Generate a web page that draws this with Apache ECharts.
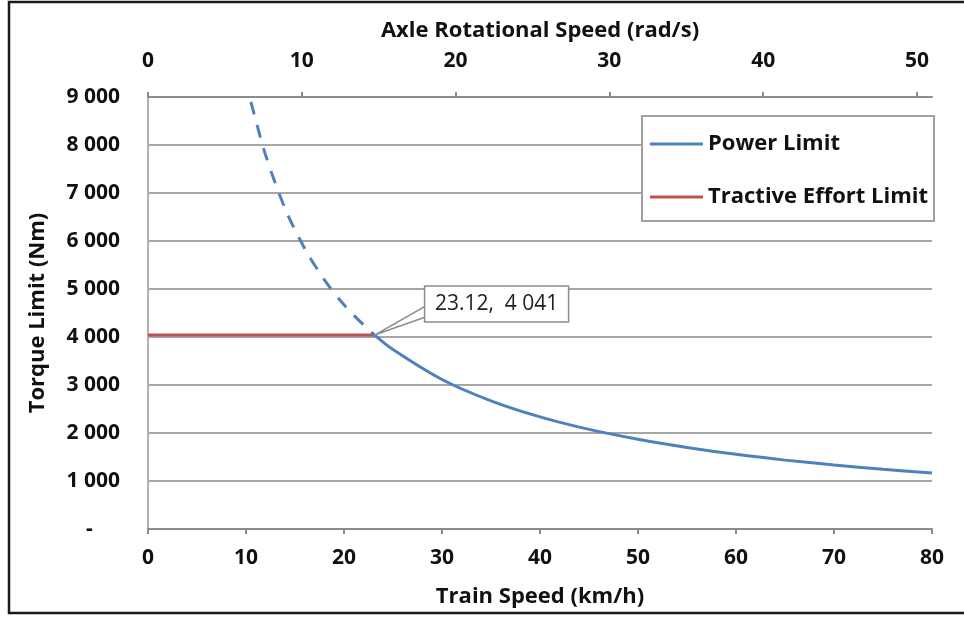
<!DOCTYPE html>
<html>
<head>
<meta charset="utf-8">
<script src="https://cdn.jsdelivr.net/npm/echarts@6/dist/echarts.min.js"></script>
<style>
  html, body { margin: 0; padding: 0; background: #fff; }
  #chart { width: 964px; height: 617px; }
</style>
</head>
<body>
<div id="chart"></div>
<script>
// Train speed (km/h) and torque (Nm) along the power-limited curve,
// dashed part below the crossover, solid part above it.
const powerSpeedDashed = [10.5, 12, 14, 16, 18, 20, 22, 23.12];
const powerTorqueDashed = [8900, 7790, 6670, 5840, 5190, 4670, 4250, 4041];
const powerSpeedSolid = [23.12, 25, 30, 35, 40, 45, 50, 55, 60, 65, 70, 75, 80];
const powerTorqueSolid = [4041, 3740, 3115, 2670, 2335, 2075, 1870, 1700, 1555, 1435, 1335, 1245, 1168];

// Tractive effort limit: constant torque up to the crossover speed
const tractiveSpeed = [0, 23.12];
const tractiveTorque = [4041, 4041];

// Crossover point
const crossSpeed = 23.12;
const crossTorque = 4041;

// Axis ranges
const trainSpeedMax = 80;       // km/h
const axleSpeedMax = 50.98;     // rad/s at 80 km/h
const torqueMax = 9000;

const FONT = 'Open Sans';
const BLUE = '#4F81BD';
const RED = '#C0504D';
const GRID_GRAY = '#A6A6A6';
const AXIS_GRAY = '#8C8C8C';

function thousands(v) {
  return String(Math.round(v)).replace(/\B(?=(\d{3})+(?!\d))/g, ' ');
}

function pairs(xs, ys) {
  return xs.map((x, i) => [x, ys[i]]);
}

const chart = echarts.init(document.getElementById('chart'), null, { renderer: 'canvas' });

const tickStyle = { fontFamily: FONT, fontWeight: 'bold', fontSize: 21, color: '#111' };
const titleStyle = { fontFamily: FONT, fontWeight: 'bold', fontSize: 22, color: '#111' };

const option = {
  backgroundColor: '#fff',
  animation: false,
  grid: { left: 148, right: 32, top: 97, bottom: 88, containLabel: false },
  xAxis: [
    {
      type: 'value', position: 'bottom', min: 0, max: trainSpeedMax, interval: 10,
      name: 'Train Speed (km/h)', nameLocation: 'middle', nameGap: 57,
      nameTextStyle: titleStyle,
      axisLine: { show: true, lineStyle: { color: AXIS_GRAY, width: 2 } },
      axisTick: { show: true, length: 5, lineStyle: { color: AXIS_GRAY, width: 2 } },
      axisLabel: Object.assign({ margin: 19 }, tickStyle),
      splitLine: { show: false }
    },
    {
      type: 'value', position: 'top', min: 0, max: axleSpeedMax, interval: 10,
      name: 'Axle Rotational Speed (rad/s)', nameLocation: 'middle', nameGap: 55,
      nameTextStyle: titleStyle,
      axisLine: { show: true, lineStyle: { color: AXIS_GRAY, width: 2 } },
      axisTick: { show: true, length: 5, lineStyle: { color: AXIS_GRAY, width: 2 } },
      axisLabel: Object.assign({ margin: 25, showMaxLabel: false }, tickStyle),
      splitLine: { show: false }
    }
  ],
  yAxis: {
    type: 'value', min: 0, max: torqueMax, interval: 1000,
    name: 'Torque Limit (Nm)', nameLocation: 'middle', nameGap: 99,
    nameTextStyle: titleStyle,
    axisLine: { show: true, lineStyle: { color: '#B0B0B0', width: 2 } },
    axisTick: { show: false },
    axisLabel: Object.assign({
      margin: 28,
      formatter: v => (v === 0 ? '-     ' : thousands(v))
    }, tickStyle),
    splitLine: { show: true, lineStyle: { color: GRID_GRAY, width: 2 } }
  },
  legend: {
    orient: 'vertical', left: 650, top: 133, padding: 0,
    icon: 'rect', itemWidth: 53, itemHeight: 3, itemGap: 31, itemStyle: { borderWidth: 0 },
    textStyle: Object.assign({ lineHeight: 22 }, titleStyle),
    data: [
      { name: 'Power Limit', itemStyle: { color: BLUE } },
      { name: 'Tractive Effort Limit', itemStyle: { color: RED } }
    ],
    z: 20
  },
  graphic: [
    // outer frame
    { type: 'rect', shape: { x: 9, y: 2, width: 980, height: 611 },
      style: { fill: null, stroke: '#1a1a1a', lineWidth: 2.5 }, z: 1 },
    // legend box
    { type: 'rect', shape: { x: 642, y: 116, width: 292, height: 105 },
      style: { fill: '#fff', stroke: '#A0A0A0', lineWidth: 2 }, z: 10 }
  ],
  series: [
    {
      name: 'Tractive Effort Limit', type: 'line', xAxisIndex: 0,
      data: pairs(tractiveSpeed, tractiveTorque),
      showSymbol: false, lineStyle: { color: RED, width: 3 }, itemStyle: { color: RED },
      z: 3
    },
    {
      name: 'Power Limit', type: 'line', xAxisIndex: 0, smooth: 0.3,
      data: pairs(powerSpeedDashed, powerTorqueDashed),
      showSymbol: false, lineStyle: { color: BLUE, width: 3, type: [13, 11] }, itemStyle: { color: BLUE },
      z: 3
    },
    {
      name: 'Power Limit', type: 'line', xAxisIndex: 0, smooth: 0.3,
      data: pairs(powerSpeedSolid, powerTorqueSolid),
      showSymbol: false, lineStyle: { color: BLUE, width: 3 }, itemStyle: { color: BLUE },
      z: 3
    },
    {
      // callout for the crossover point
      name: 'crossover', type: 'custom', xAxisIndex: 0,
      data: [[crossSpeed, crossTorque]],
      z: 5,
      renderItem: function (params, api) {
        const p = api.coord([api.value(0), api.value(1)]);
        const bx = p[0] + 50, by = p[1] - 49, bw = 144, bh = 36;
        const text = api.value(0).toFixed(2) + ',  ' + thousands(api.value(1));
        return {
          type: 'group',
          children: [
            { type: 'polygon',
              shape: { points: [[p[0], p[1]], [bx + 1, by + 20], [bx + 1, by + 31]] },
              style: { fill: '#fff', stroke: '#8C8C8C', lineWidth: 1.5 } },
            { type: 'rect', shape: { x: bx, y: by, width: bw, height: bh },
              style: { fill: '#fff', stroke: '#8C8C8C', lineWidth: 1.5 } },
            { type: 'text', x: bx + bw / 2, y: by + bh / 2,
              style: { text: text, fontFamily: FONT, fontSize: 21, fill: '#222',
                       align: 'center', verticalAlign: 'middle' } }
          ]
        };
      }
    }
  ]
};

chart.setOption(option);
</script>
</body>
</html>
